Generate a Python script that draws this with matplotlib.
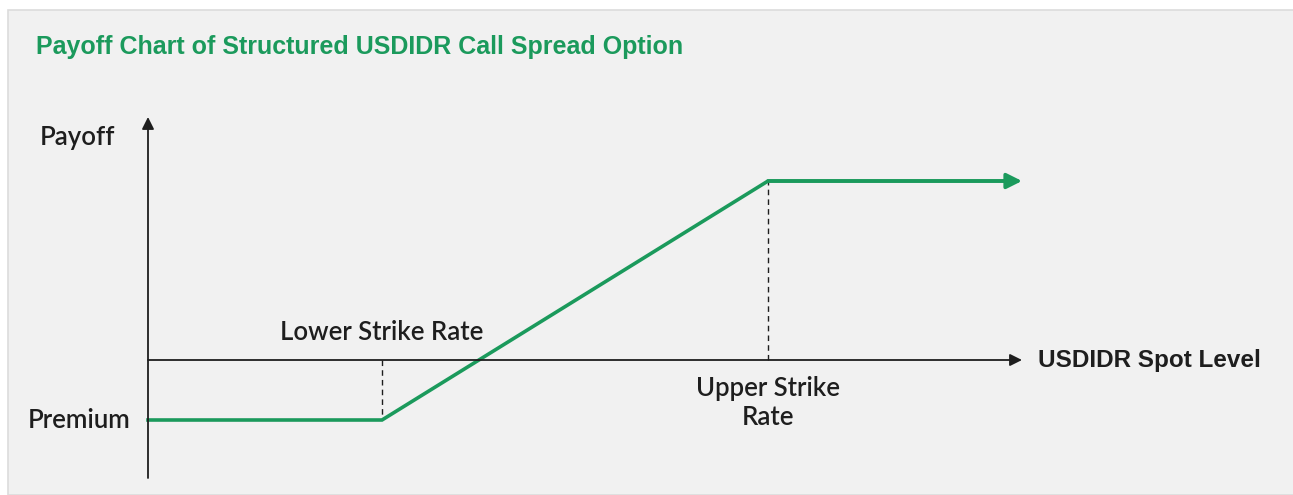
import matplotlib.pyplot as plt
from matplotlib.patches import Rectangle

# payoff profile (spot level, payoff) in arbitrary chart units
spot = [0.0, 2.34, 6.20, 8.74]
payoff = [-0.60, -0.60, 1.79, 1.79]
lower_strike = spot[1]
upper_strike = spot[2]
premium = payoff[0]
cap = payoff[2]
title = "Payoff Chart of Structured USDIDR Call Spread Option"

green = "#1b9a5c"
ink = "#1e1e1e"

fig = plt.figure(figsize=(12.93, 4.95), dpi=100)
ax = fig.add_axes([0, 0, 1, 1])
ax.set_xlim(-1.48, 11.45)
ax.set_ylim(-1.35, 3.60)
ax.axis("off")

# grey panel behind the chart
ax.add_patch(Rectangle((8 / 1293, 0), 1, 1 - 10 / 495, transform=fig.transFigure,
                       facecolor="#f1f1f1", edgecolor="#dcdcdc", lw=1.2, zorder=0,
                       clip_on=False))

# axes with arrow heads
ax.annotate("", xy=(0, 2.43), xytext=(0, -1.18),
            arrowprops=dict(arrowstyle="-|>", color=ink, lw=1.3, mutation_scale=18,
                            shrinkA=0, shrinkB=0))
ax.annotate("", xy=(spot[-1], 0), xytext=(0, 0),
            arrowprops=dict(arrowstyle="-|>", color=ink, lw=1.3, mutation_scale=18,
                            shrinkA=0, shrinkB=0))

# dashed strike guides
ax.plot([lower_strike, lower_strike], [0, premium], ls=(0, (4, 3)), color=ink, lw=1.0)
ax.plot([upper_strike, upper_strike], [0, cap], ls=(0, (4, 3)), color=ink, lw=1.0)

# payoff line
ax.plot(spot[:-1] + [spot[-1] - 0.1], payoff[:-1] + [payoff[-1]], color=green, lw=2.6,
        solid_joinstyle="miter")
ax.annotate("", xy=(spot[-1], payoff[-1]), xytext=(spot[-2], payoff[-2]),
            arrowprops=dict(arrowstyle="-|>", color=green, lw=2.6, mutation_scale=23,
                            shrinkA=0, shrinkB=0))

lab = dict(color=ink, fontsize=18.5, family=["Lato", "DejaVu Sans"], fontweight="semibold")
ax.text(-0.33, 2.22, "Payoff", ha="right", va="center", **lab)
ax.text(-0.18, premium, "Premium", ha="right", va="center", **lab)
ax.text(lower_strike, 0.27, "Lower Strike Rate", ha="center", va="center", **lab)
ax.text(upper_strike, -0.43, "Upper Strike\nRate", ha="center", va="center",
        linespacing=1.2, **lab)
ax.text(spot[-1] + 0.16, -0.01, "USDIDR Spot Level", ha="left", va="center",
        color=ink, fontsize=17.5, fontweight="bold", family=["Liberation Sans", "DejaVu Sans"])

fig.text(36 / 1293, 1 - 47 / 495, title, ha="left", va="center", color=green,
         fontsize=18, fontweight="bold", family=["Liberation Sans", "DejaVu Sans"])

fig.savefig("out.png", dpi=100)
